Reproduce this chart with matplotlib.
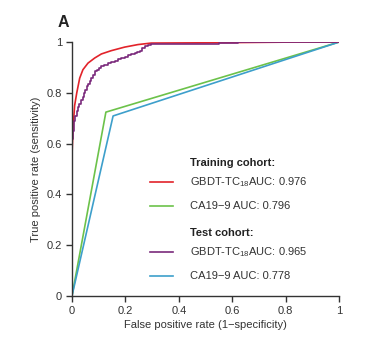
import matplotlib
matplotlib.use("Agg")
import matplotlib.pyplot as plt

plt.rcParams['font.family'] = ['Liberation Sans', 'DejaVu Sans']
plt.rcParams['mathtext.fontset'] = 'custom'
plt.rcParams['mathtext.rm'] = 'Liberation Sans'
plt.rcParams['mathtext.it'] = 'Liberation Sans'

# ROC curves (FPR, TPR)
train_gbdt_fpr = [0, 0, 0.004, 0.010, 0.018, 0.029, 0.041, 0.060, 0.085, 0.110, 0.147,
                  0.197, 0.247, 0.297, 0.5, 0.85, 1]
train_gbdt_tpr = [0, 0.55, 0.66, 0.75, 0.80, 0.858, 0.891, 0.917, 0.937, 0.953, 0.966,
                  0.980, 0.990, 0.996, 0.997, 1.0, 1]

test_gbdt_fpr = [0, 0, 0.003, 0.006, 0.012, 0.018, 0.022, 0.028, 0.034, 0.040, 0.045,
                 0.050, 0.056, 0.061, 0.066, 0.072, 0.078, 0.085, 0.092, 0.100, 0.110,
                 0.120, 0.135, 0.147, 0.160, 0.172, 0.185, 0.197, 0.210, 0.222, 0.235,
                 0.245, 0.253, 0.262, 0.272, 0.285, 0.297, 0.40, 0.55, 0.62, 1]
test_gbdt_tpr = [0, 0.62, 0.65, 0.69, 0.71, 0.73, 0.745, 0.755, 0.77, 0.785, 0.80,
                 0.81, 0.825, 0.835, 0.845, 0.858, 0.87, 0.885, 0.89, 0.898, 0.904,
                 0.91, 0.917, 0.922, 0.927, 0.932, 0.937, 0.943, 0.948, 0.952, 0.957,
                 0.962, 0.966, 0.975, 0.983, 0.988, 0.992, 0.994, 0.996, 1.0, 1]

train_ca_fpr = [0, 0.127, 1]
train_ca_tpr = [0, 0.724, 1]
test_ca_fpr = [0, 0.154, 1]
test_ca_tpr = [0, 0.709, 1]

labels = ['GBDT-TC$_{18}$AUC: 0.976', 'CA19\u22129 AUC: 0.796',
          'GBDT-TC$_{18}$AUC: 0.965', 'CA19\u22129 AUC: 0.778']
colors = ['#e2232a', '#6cc24a', '#7a2a7c', '#3d9fcb']

fig = plt.figure(figsize=(3.69, 3.46), dpi=100)
ax = fig.add_axes([0.195, 0.1445, 0.724, 0.734])

lw = 1.2
ax.plot(train_ca_fpr, train_ca_tpr, color=colors[1], lw=lw)
ax.plot(test_ca_fpr, test_ca_tpr, color=colors[3], lw=lw)
ax.plot(train_gbdt_fpr, train_gbdt_tpr, color=colors[0], lw=lw)
ax.plot(test_gbdt_fpr, test_gbdt_tpr, color=colors[2], lw=lw, drawstyle='steps-post')

ax.set_xlim(0, 1)
ax.set_ylim(0, 1)
ticks = [0, 0.2, 0.4, 0.6, 0.8, 1]
ticklabels = ['0', '0.2', '0.4', '0.6', '0.8', '1']
ax.set_xticks(ticks)
ax.set_xticklabels(ticklabels)
ax.set_yticks(ticks)
ax.set_yticklabels(ticklabels)
ax.tick_params(direction='out', length=4, width=1, labelsize=8, colors='#333333', pad=3)
for s in ['top', 'right']:
    ax.spines[s].set_visible(False)
for s in ['left', 'bottom']:
    ax.spines[s].set_color('#333333')
    ax.spines[s].set_linewidth(1)
ax.set_xlabel('False positive rate (1\u2212specificity)', fontsize=8, color='#333333', labelpad=3)
ax.set_ylabel('True positive rate (sensitivity)', fontsize=8, color='#333333', labelpad=4)

# legend drawn by hand in axes coordinates
x0, x1, xt = 0.292, 0.378, 0.442
ax.text(xt, 0.522, 'Training cohort:', transform=ax.transAxes, fontsize=8,
        fontweight='bold', va='center', color='#222222')
ax.text(xt, 0.248, 'Test cohort:', transform=ax.transAxes, fontsize=8,
        fontweight='bold', va='center', color='#222222')
rows = [0.448, 0.356, 0.172, 0.079]
for yy, lab, col in zip(rows, labels, colors):
    ax.plot([x0, x1], [yy, yy], color=col, lw=lw, transform=ax.transAxes, clip_on=False)
    ax.text(xt, yy, lab, transform=ax.transAxes, fontsize=8, va='center', color='#333333')

fig.text(0.157, 0.935, 'A', fontsize=11.5, fontweight='bold', va='center', color='#222222')

fig.savefig('out.png', dpi=100)
